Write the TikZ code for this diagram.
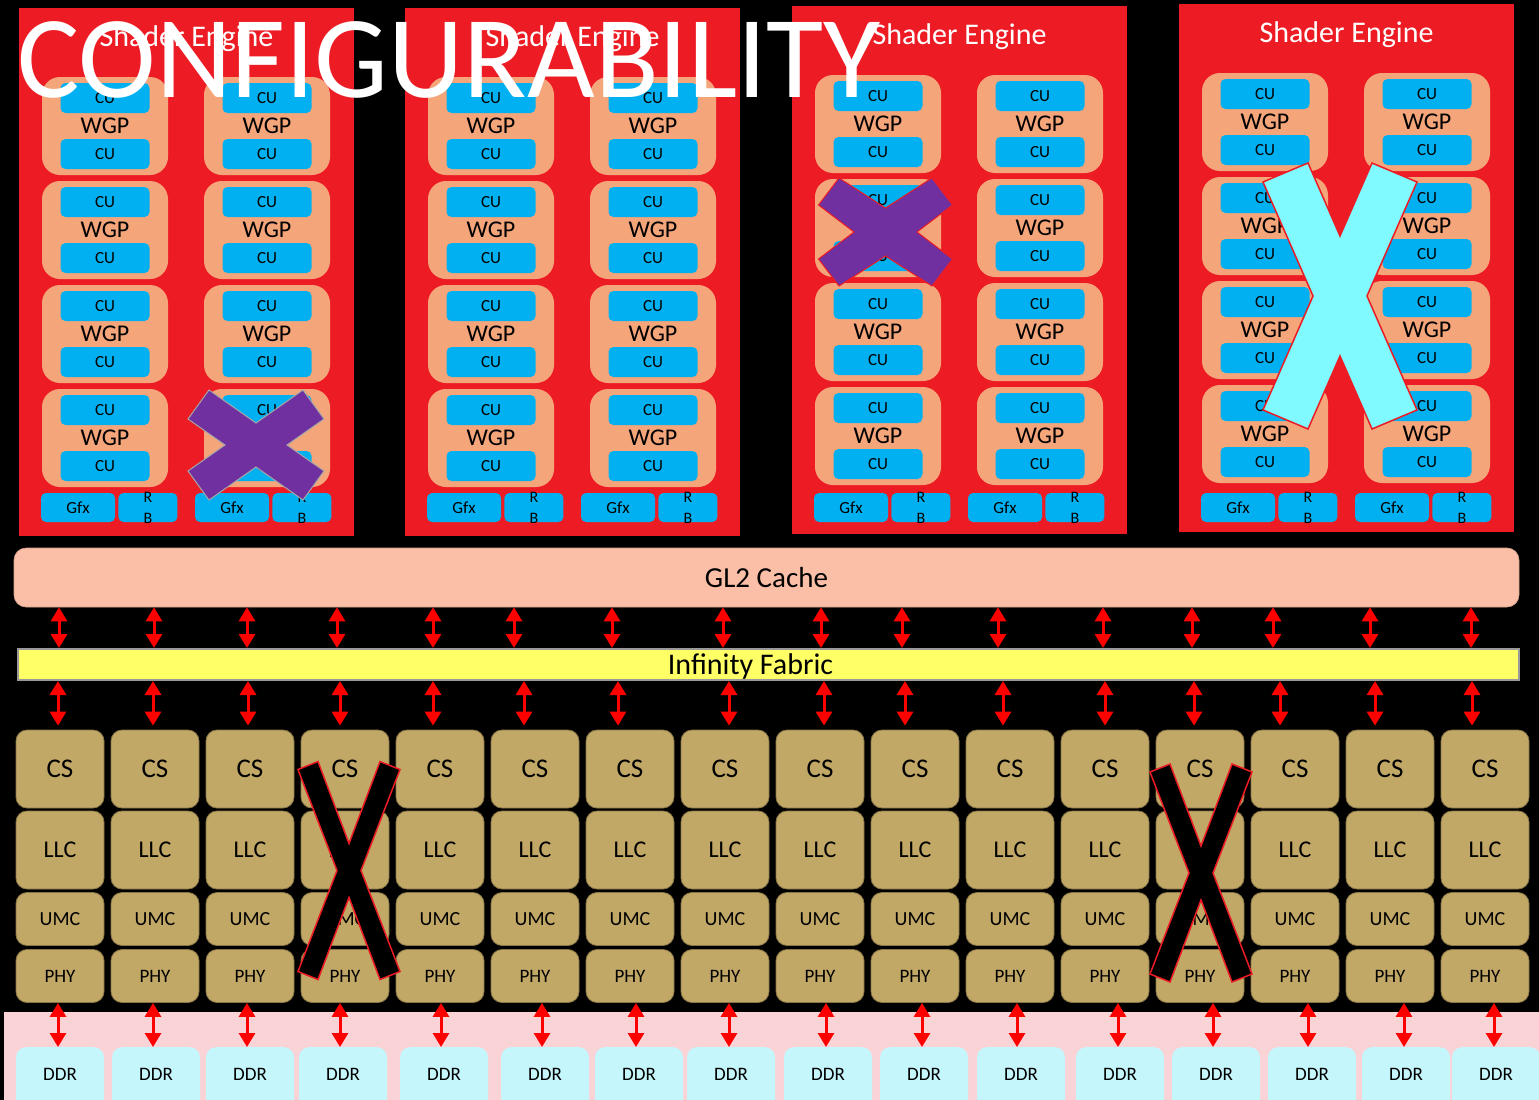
\documentclass[tikz,border=0pt]{standalone}
\usepackage{fontspec}
\setmainfont{Carlito}
\usetikzlibrary{arrows.meta, positioning}
\definecolor{sered}{HTML}{ED1C24}
\definecolor{wgporange}{HTML}{F4A57A}
\definecolor{cublue}{HTML}{00B0F0}
\definecolor{cachepeach}{HTML}{FABFA6}
\definecolor{fabricyellow}{HTML}{FFFF66}
\definecolor{memtan}{HTML}{C2A866}
\definecolor{bandpink}{HTML}{FAD3D6}
\definecolor{ddrcyan}{HTML}{C4F6FB}
\definecolor{xpurple}{HTML}{7030A0}
\definecolor{xcyan}{HTML}{80F9FF}
\definecolor{arrowred}{HTML}{FF0000}

\newcommand{\drawcross}[9]{%
  \draw[#1, shift={(#2,#3)}] (-#4,-#6) -- (-#7,-#5) -- (0,-#8) -- (#7,-#5) -- (#4,-#6) -- (#9,0)
    -- (#4,#6) -- (#7,#5) -- (0,#8) -- (-#7,#5) -- (-#4,#6) -- (-#9,0) -- cycle;}

\begin{document}
\begin{tikzpicture}[
  x=1pt, y=-1pt,
  sebox/.style={fill=sered, minimum width=335pt, minimum height=528pt, inner sep=0pt, anchor=north west},
  setitle/.style={text=white, font=\fontsize{30}{36}\selectfont},
  wgpbox/.style={fill=wgporange, rounded corners=18pt, minimum width=126pt, minimum height=98pt, inner sep=0pt, font=\fontsize{24}{29}\selectfont},
  cubox/.style={fill=cublue, rounded corners=5pt, minimum width=89pt, minimum height=30pt, inner sep=0pt, font=\fontsize{17}{20}\selectfont},
  gfxbox/.style={cubox, minimum width=74pt, minimum height=29pt},
  rbbox/.style={gfxbox, minimum width=59pt, label={[font=\fontsize{16}{21}\selectfont, align=center, inner sep=0pt]center:R\\B}},
  cachebox/.style={fill=cachepeach, draw=cachepeach!85!black, line width=0.6pt, rounded corners=12pt, minimum width=1505pt, minimum height=59pt, font=\fontsize{29}{34}\selectfont},
  fabricbox/.style={fill=fabricyellow, draw=gray!80, line width=2pt, minimum width=1501pt, minimum height=31pt, inner sep=0pt},
  membox/.style={fill=memtan, draw=memtan!70!black, line width=0.8pt, rounded corners=11pt, minimum width=88pt, inner sep=0pt},
  csbox/.style={membox, minimum height=78pt, font=\fontsize{27}{32}\selectfont},
  llcbox/.style={membox, minimum height=78pt, font=\fontsize{24}{29}\selectfont},
  umcbox/.style={membox, minimum height=53pt, font=\fontsize{20}{24}\selectfont},
  phybox/.style={membox, minimum height=53pt, font=\fontsize{19}{23}\selectfont},
  ddrbox/.style={fill=ddrcyan, rounded corners=10pt, minimum width=88pt, minimum height=66pt, inner sep=0pt, anchor=north, text height=6pt, text depth=6pt, font=\fontsize{19}{23}\selectfont},
  biarrow/.style={draw=arrowred, line width=3pt, {Triangle[width=16pt,length=14pt]}-{Triangle[width=16pt,length=14pt]}},
  purplecross/.style={fill=xpurple, draw=gray!70, line width=1pt},
  cyancross/.style={fill=xcyan, draw=sered, line width=1.5pt},
  blackcross/.style={fill=black, draw=sered, line width=1.5pt},
  titletext/.style={text=white, font=\fontsize{117}{130}\selectfont, inner sep=0pt}
]
\useasboundingbox (0,0) rectangle (1539,1100);
\clip (0,0) rectangle (1539,1100);
\fill[black] (0,0) rectangle (1539,1100);

% shader engines
\foreach \s/\xo/\yo in {1/19/8, 2/405/8, 3/792/6, 4/1179/4}{
  \begin{scope}[shift={(\xo,\yo)}]
    \node[sebox] (se\s) at (0,0) {};
    \node[setitle] (se\s-title) at (167.5,31) {Shader Engine};
    \foreach \c/\cx/\gx in {1/86/59, 2/248/213}{
      \foreach \r in {1,...,4}{
        \node[wgpbox] (se\s-w\c\r) at (\cx,{14+104*\r}) {WGP};
        \node[cubox, below=6pt of se\s-w\c\r.north] (se\s-cua\c\r) {CU};
        \node[cubox, above=6pt of se\s-w\c\r.south] (se\s-cub\c\r) {CU};
      }
      \node[gfxbox] (se\s-gfx\c) at (\gx,{507.5-\yo}) {Gfx};
      \node[rbbox, right=3pt of se\s-gfx\c] (se\s-rb\c) {};
    }
  \end{scope}
}

\drawcross{purplecross}{256}{445}{68}{55}{26}{47}{22}{31}
\drawcross{purplecross, draw=sered}{885.5}{232}{67}{54}{27}{46.5}{24}{31.5}
\drawcross{cyancross}{1340}{296}{77}{133}{114}{32}{60}{27}

% cache and fabric
\node[cachebox] (gl2) at (766.5,577.5) {GL2 Cache};
\node[fabricbox, label={[font=\fontsize{30}{36}\selectfont, xshift=-18pt, yshift=-2pt]center:Infinity Fabric}] (fabric) at (768.5,664.5) {};

% memory channels
\fill[bandpink] (4,1012) rectangle (1545,1105);
\foreach \i in {1,...,16}{
  \pgfmathsetmacro\mx{60+95*(\i-1)}
  \node[csbox] (cs\i) at (\mx,769) {CS};
  \node[llcbox] (llc\i) at (\mx,850) {LLC};
  \node[umcbox] (umc\i) at (\mx,919) {UMC};
  \node[phybox] (phy\i) at (\mx,976) {PHY};
}
\foreach \x [count=\i] in {60,156,250,343,444,545,639,731,828,924,1021,1120,1216,1312,1406,1496}
  \node[ddrbox] (ddr\i) at (\x,1047) {DDR};

\foreach \x in {59,154,247,337,433,514,612,723,821,902,998,1103,1192,1273,1370,1471}
  \draw[biarrow] (gl2.south -| \x,0) -- (fabric.north -| \x,0);
\foreach \x [count=\i] in {58,153,248,340,433,524,618,729,824,905,1003,1105,1194,1280,1375,1472}
  \draw[biarrow, shorten >=4pt] (fabric.south -| \x,0) -- (cs\i.north -| \x,0);
\foreach \x [count=\i] in {58,153,247,340,441,542,636,729,826,922,1017,1118,1213,1308,1404,1494}
  \draw[biarrow] (phy\i.south -| \x,0) -- (ddr\i.north -| \x,0);

\drawcross{blackcross}{349}{870.5}{51}{109}{101}{31}{27}{12}
\drawcross{blackcross}{1201}{873}{51}{109}{101}{31}{27}{12}

\node[titletext, anchor=base west] (title) at (17,97) {CONFIGURABILITY};
\end{tikzpicture}
\end{document}
